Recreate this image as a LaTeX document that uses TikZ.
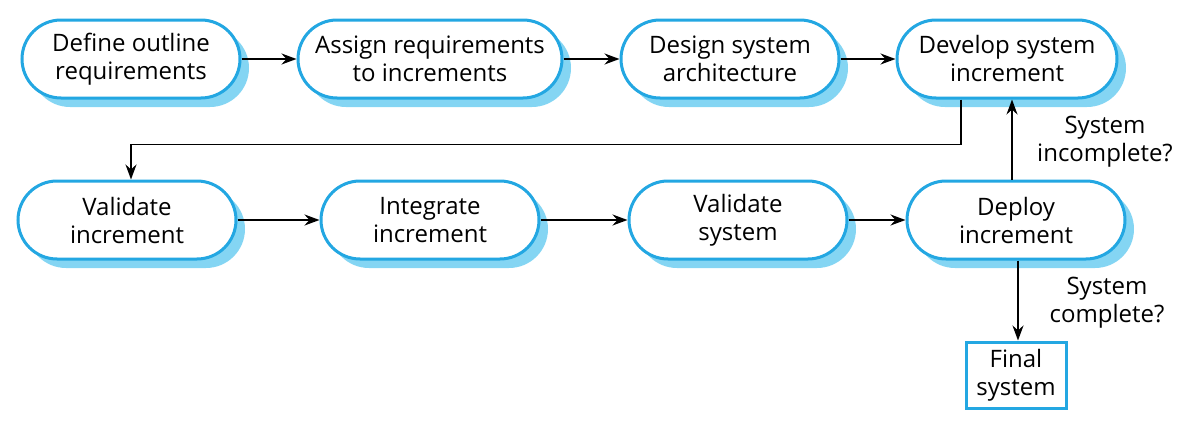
\documentclass[tikz,border=0pt]{standalone}
\usepackage{fontspec}
\setmainfont{Open Sans}
\usepackage{tikz}
\usetikzlibrary{arrows.meta, positioning, shadows}
\definecolor{edge}{RGB}{35, 167, 226}
\definecolor{shade}{RGB}{132, 213, 243}

\begin{document}
\begin{tikzpicture}[x=0.5pt, y=-0.5pt,
  stage/.style={draw=edge, line width=1.5pt, fill=white, rounded corners=19.5pt,
    minimum width=109pt, minimum height=39pt, align=center,
    font=\fontsize{12}{14}\selectfont,
    drop shadow={shadow xshift=4.5pt, shadow yshift=-4.5pt, fill=shade, opacity=1}},
  result/.style={draw=edge, line width=1.5pt, fill=white,
    minimum width=50pt, minimum height=33pt, align=center,
    font=\fontsize{12}{14}\selectfont},
  note/.style={align=center, font=\fontsize{12}{14}\selectfont},
  flow/.style={line width=0.75pt, -{Stealth[length=7.5pt, width=5.5pt]}}]
  \useasboundingbox (0,0) rectangle (1196,428);
  % top row
  \node[stage] (define) at (131,59) {Define outline\\requirements};
  \node[stage, minimum width=132pt] (assign) at (430,59) {Assign requirements\\to increments};
  \node[stage] (design) at (730,59) {Design system\\architecture};
  \node[stage, minimum width=110pt] (develop) at (1007,59) {Develop system\\increment};
  % bottom row
  \node[stage] (valinc) at (127,220) {Validate\\increment};
  \node[stage] (integ) at (430,220) {Integrate\\increment};
  \node[stage] (valsys) at (738,220) {Validate\\system};
  \node[stage] (deploy) at (1016,220) {Deploy\\increment};
  \node[result] (final) at (1016,375) {Final\\system};
  % labels
  \node[note] (incompl) at (1105,142) {System\\incomplete?};
  \node[note] (compl) at (1107,303) {System\\complete?};
  % connectors
  \draw[flow] (define) -- (assign);
  \draw[flow] (assign) -- (design);
  \draw[flow] (design) -- (develop);
  \draw[flow] ([xshift=-23pt]develop.south) -- ++(0,45) -| ([xshift=2pt]valinc.north);
  \draw[flow] (valinc) -- (integ);
  \draw[flow] (integ) -- (valsys);
  \draw[flow] (valsys) -- (deploy);
  \draw[flow] ([xshift=-2pt]deploy.north) -- ([xshift=-2pt]deploy.north |- develop.south);
  \draw[flow] ([xshift=1pt]deploy.south) -- ([xshift=1pt]final.north);
\end{tikzpicture}
\end{document}
